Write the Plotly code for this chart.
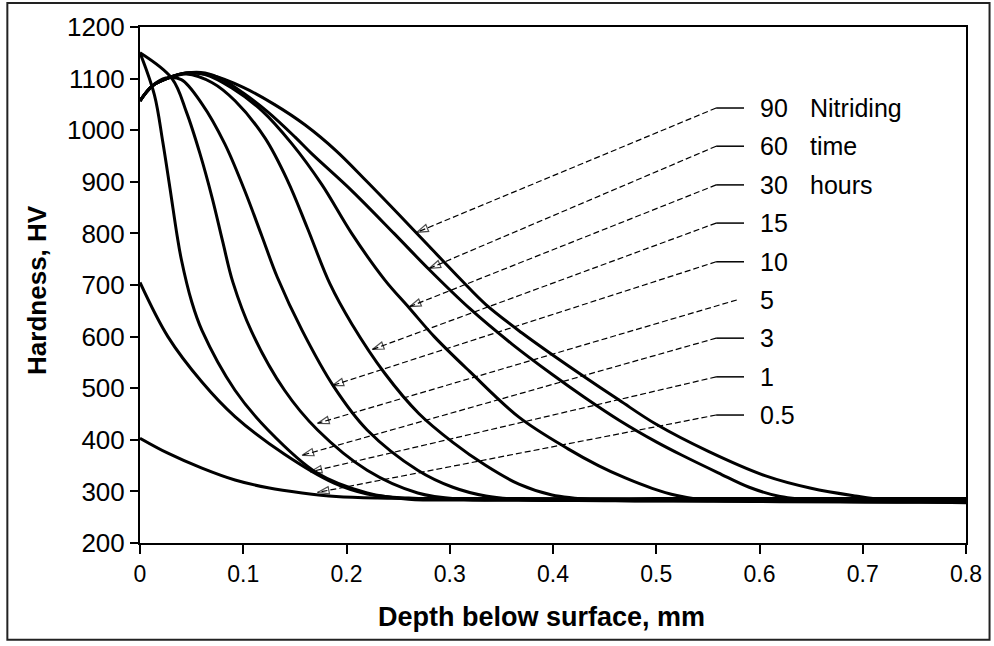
import plotly.graph_objects as go

# ---------------- data ----------------
times = ["90", "60", "30", "15", "10", "5", "3", "1", "0.5"]

x_05 = [0, 0.027, 0.06, 0.092, 0.124, 0.157, 0.19, 0.23, 0.3, 0.5, 0.8]
hv_05 = [403, 374, 345, 322, 307, 297, 290, 287, 286, 286, 286]

x_1 = [0, 0.027, 0.06, 0.092, 0.14, 0.188, 0.22, 0.26, 0.35, 0.8]
hv_1 = [705, 600, 512, 445, 372, 316, 295, 287, 285, 285]

x_3 = [0, 0.014, 0.022, 0.029, 0.036, 0.04, 0.05, 0.06, 0.092, 0.124, 0.172, 0.22, 0.26, 0.35, 0.8]
hv_3 = [1150, 1068, 978, 888, 795, 750, 668, 612, 496, 419, 335, 297, 285, 284, 284]

x_5 = [0, 0.031, 0.045, 0.058, 0.07, 0.08, 0.09, 0.108, 0.14, 0.172, 0.22, 0.269, 0.31, 0.4, 0.8]
hv_5 = [1150, 1100, 1035, 955, 868, 785, 705, 610, 496, 419, 341, 297, 285, 283, 283]

x_10 = [0, 0.012, 0.025, 0.04, 0.06, 0.082, 0.101, 0.118, 0.133, 0.157, 0.188, 0.22, 0.269, 0.303, 0.335, 0.37, 0.45, 0.8]
hv_10 = [1057, 1086, 1101, 1098, 1051, 974, 885, 795, 715, 612, 502, 419, 341, 308, 291, 284, 282, 282]

x_15 = [0, 0.012, 0.027, 0.045, 0.07, 0.092, 0.121, 0.143, 0.162, 0.184, 0.205, 0.237, 0.27, 0.303, 0.335, 0.367, 0.399, 0.44, 0.55, 0.8]
hv_15 = [1057, 1086, 1101, 1109, 1092, 1057, 985, 902, 811, 702, 625, 529, 451, 395, 350, 314, 293, 284, 281, 281]

x_30 = [0, 0.012, 0.027, 0.045, 0.063, 0.089, 0.118, 0.147, 0.176, 0.205, 0.237, 0.261, 0.285, 0.319, 0.367, 0.415, 0.444, 0.47, 0.496, 0.52, 0.54, 0.58, 0.8]
hv_30 = [1057, 1086, 1101, 1111, 1108, 1082, 1038, 974, 895, 800, 710, 655, 600, 533, 444, 382, 350, 326, 306, 292, 285, 281, 280]

x_60 = [0, 0.012, 0.027, 0.045, 0.063, 0.08, 0.1, 0.124, 0.15, 0.166, 0.205, 0.246, 0.28, 0.319, 0.36, 0.399, 0.43, 0.464, 0.5, 0.525, 0.56, 0.59, 0.62, 0.66, 0.8]
hv_60 = [1057, 1086, 1101, 1111, 1111, 1098, 1072, 1035, 987, 955, 883, 800, 730, 655, 586, 527, 483, 438, 396, 370, 336, 308, 290, 282, 279]

x_90 = [0, 0.012, 0.027, 0.045, 0.07, 0.1, 0.13, 0.16, 0.19, 0.22, 0.25, 0.28, 0.31, 0.335, 0.37, 0.4, 0.464, 0.5, 0.55, 0.606, 0.65, 0.693, 0.72, 0.8]
hv_90 = [1057, 1086, 1101, 1111, 1106, 1083, 1050, 1010, 960, 900, 838, 775, 712, 662, 607, 564, 477, 430, 378, 330, 306, 291, 284, 278]

# label rows (HV level of each label) and arrow tips on the curves
label_hv = [1043, 969, 894, 820, 745, 671, 597, 522, 448]
tip_x = [0.268, 0.28, 0.261, 0.225, 0.186, 0.172, 0.157, 0.165, 0.172]
tip_hv = [802, 732, 658, 575, 505, 432, 370, 338, 298]
side_words = ["Nitriding", "time", "hours"]

x_ticks = [0, 0.1, 0.2, 0.3, 0.4, 0.5, 0.6, 0.7, 0.8]
x_ticktext = ["0", "0.1", "0.2", "0.3", "0.4", "0.5", "0.6", "0.7", "0.8"]
y_ticks = [200, 300, 400, 500, 600, 700, 800, 900, 1000, 1100, 1200]

curves = [(x_90, hv_90), (x_60, hv_60), (x_30, hv_30), (x_15, hv_15), (x_10, hv_10),
          (x_5, hv_5), (x_3, hv_3), (x_1, hv_1), (x_05, hv_05)]

FONT = "Liberation Sans, Arial, sans-serif"

# ---------------- figure ----------------
fig = go.Figure()

for (xs, ys), t in zip(curves, times):
    fig.add_trace(go.Scatter(x=xs, y=ys, mode="lines", name=t + " h",
                             line=dict(color="black", width=3, shape="spline", smoothing=1.0),
                             showlegend=False, hoverinfo="skip"))

SEG_L, SEG_R, TXT_X, WORD_X = 0.558, 0.585, 0.599, 0.647
for i, t in enumerate(times):
    start_x = SEG_L if t != "5" else 0.578
    fig.add_trace(go.Scatter(
        x=[start_x, tip_x[i]], y=[label_hv[i], tip_hv[i]], mode="lines+markers",
        line=dict(color="black", width=1.2, dash="6px,3px"),
        marker=dict(symbol="arrow-open", size=[0, 12], angleref="previous",
                    color="black", line=dict(color="black", width=1.2)),
        showlegend=False, hoverinfo="skip"))
    if t != "5":
        fig.add_shape(type="line", x0=SEG_L, x1=SEG_R, y0=label_hv[i], y1=label_hv[i],
                      line=dict(color="black", width=1.5))
    fig.add_annotation(x=TXT_X, y=label_hv[i], text=t, showarrow=False,
                       xanchor="left", yanchor="middle",
                       font=dict(family=FONT, size=25, color="black"))
for i, w in enumerate(side_words):
    fig.add_annotation(x=WORD_X, y=label_hv[i], text=w, showarrow=False,
                       xanchor="left", yanchor="middle",
                       font=dict(family=FONT, size=25, color="black"))

# axis titles
fig.add_annotation(xref="paper", yref="paper", x=-0.125, y=0.49, text="<b>Hardness, HV</b>",
                   textangle=-90, showarrow=False, xanchor="center", yanchor="middle",
                   font=dict(family=FONT, size=26, color="black"))
fig.add_annotation(xref="paper", yref="paper", x=0.4855, y=-0.143, text="<b>Depth below surface, mm</b>",
                   showarrow=False, xanchor="center", yanchor="middle",
                   font=dict(family=FONT, size=27, color="black"))

# outer frame
fig.add_shape(type="rect", xref="paper", yref="paper", x0=-0.1606, x1=1.0285, y0=-0.1876, y1=1.0464,
              line=dict(color="#222", width=2))

fig.update_xaxes(range=[0, 0.8], tickvals=x_ticks, ticktext=x_ticktext, showgrid=False, zeroline=False,
                 showline=True, linecolor="black", linewidth=2, mirror=True,
                 ticks="outside", ticklen=9, tickwidth=2, tickcolor="black",
                 tickfont=dict(family=FONT, size=23, color="black"))
fig.update_yaxes(range=[200, 1200], tickvals=y_ticks, showgrid=False, zeroline=False,
                 showline=True, linecolor="black", linewidth=2, mirror=True,
                 ticks="outside", ticklen=8, tickwidth=2, tickcolor="black",
                 tickfont=dict(family=FONT, size=26, color="black"))

fig.update_layout(width=994, height=646, margin=dict(l=140, r=26, t=26, b=103),
                  paper_bgcolor="white", plot_bgcolor="white", showlegend=False)

fig.write_html("out.html", config={"displayModeBar": False},
               post_script="document.body.style.margin='0';")
